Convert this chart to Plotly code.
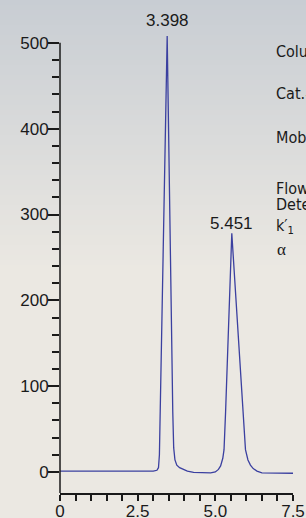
import plotly.graph_objects as go

# ---- data ----
time_min = [0.0, 0.5, 1.0, 1.5, 2.0, 2.5, 3.0, 3.12, 3.17, 3.20, 3.45, 3.63, 3.66, 3.70,
            3.76, 3.85, 4.0, 4.1, 4.3, 4.6, 4.85, 5.0, 5.1, 5.17, 5.24, 5.28, 5.33, 5.53,
            5.87, 5.92, 5.97, 6.05, 6.13, 6.22, 6.34, 6.5, 7.0, 7.5]
signal = [1.0, 1.0, 1.0, 1.0, 1.0, 1.0, 1.0, 2.0, 5.0, 20.0, 508.0, 70.0, 28.0, 14.0,
          8.0, 5.0, 2.5, 1.0, -0.5, -1.0, -1.0, 0.0, 3.0, 7.0, 16.0, 26.0, 70.0, 278.0,
          84.0, 50.0, 26.0, 14.0, 8.0, 4.0, 1.0, -1.0, -1.5, -1.5]

peak_labels = ["3.398", "5.451"]
peak_index = [10, 27]
peak_yshift = [4, -2]

x_tick_vals = [0, 2.5, 5.0, 7.5]
x_tick_text = ["0", "2.5", "5.0", "7.5"]
y_tick_vals = [0, 100, 200, 300, 400, 500]
y_tick_text = ["0", "100", "200", "300", "400", "500"]

info_labels = ["Column:", "Cat.#:", "Mobile phase:", "Flow rate:", "Detection:"]
info_pixel_y = [51, 93, 137, 188, 204]

fig = go.Figure()
fig.add_trace(go.Scatter(x=time_min, y=signal, mode="lines",
                         line=dict(color="#3b40a0", width=1.3),
                         hoverinfo="skip", showlegend=False))

# ---- layout geometry ----
W, H = 306, 518
ml, mr, mt, mb = 60, 13, 30, 25
plot_h = H - mt - mb
plot_w = W - ml - mr

def py_to_paper(p):
    return (H - mb - p) / plot_h

def px_to_paper(p):
    return (p - ml) / plot_w

shapes = []
# background vertical gradient
top = (200, 205, 211)
bot = (235, 232, 226)
grad_end = 270
step = 5
for p in range(0, H, step):
    t = min(1.0, (p + step / 2) / grad_end)
    c = tuple(round(top[i] + (bot[i] - top[i]) * t) for i in range(3))
    shapes.append(dict(type="rect", xref="paper", yref="paper", layer="below",
                       x0=px_to_paper(-2), x1=px_to_paper(W + 2),
                       y0=py_to_paper(p + step + 0.5), y1=py_to_paper(p),
                       fillcolor="rgb(%d,%d,%d)" % c, line=dict(width=0)))
# y axis line (ends at 500)
shapes.append(dict(type="line", xref="paper", yref="y", x0=0, x1=0, y0=-24.5, y1=500,
                   line=dict(color="#1a1a1a", width=1.5)))

narrow = "DejaVu Sans Condensed, Liberation Sans Narrow, Liberation Sans"
annotations = []
for lab, idx, ys in zip(peak_labels, peak_index, peak_yshift):
    annotations.append(dict(x=time_min[idx], y=signal[idx], text=lab, showarrow=False,
                            xanchor="center", yanchor="bottom", yshift=ys,
                            font=dict(family="Liberation Sans", size=17, color="#1a1a1a")))
for lab, p in zip(info_labels, info_pixel_y):
    annotations.append(dict(xref="paper", yref="paper", x=px_to_paper(274), y=py_to_paper(p),
                            text=lab, showarrow=False, xanchor="left", yanchor="middle",
                            font=dict(family=narrow, size=16, color="#1a1a1a")))
annotations.append(dict(xref="paper", yref="paper", x=px_to_paper(274), y=py_to_paper(226),
                        text="k′<sub>1</sub>", showarrow=False, xanchor="left", yanchor="middle",
                        font=dict(family=narrow, size=16, color="#1a1a1a")))
annotations.append(dict(xref="paper", yref="paper", x=px_to_paper(275), y=py_to_paper(249),
                        text="α", showarrow=False, xanchor="left", yanchor="middle",
                        font=dict(family="Liberation Serif", size=17, color="#1a1a1a")))

fig.update_layout(
    width=W, height=H,
    margin=dict(l=ml, r=mr, t=mt, b=mb, pad=0, autoexpand=False),
    paper_bgcolor="#ebe8e2", plot_bgcolor="rgba(0,0,0,0)",
    shapes=shapes, annotations=annotations, showlegend=False,
    xaxis=dict(range=[0, 7.5], tickmode="array", tickvals=x_tick_vals, ticktext=x_tick_text,
               ticks="outside", ticklen=6, tickwidth=1.5, tickcolor="#1a1a1a",
               showline=True, linecolor="#1a1a1a", linewidth=1.5, showgrid=False,
               zeroline=False, fixedrange=True, automargin=False, ticklabelstandoff=-4,
               tickfont=dict(family="Liberation Sans", size=17, color="#1a1a1a"),
               minor=dict(tickvals=[0.5, 1, 1.5, 2, 3, 3.5, 4, 4.5, 5.5, 6, 6.5, 7],
                          ticks="outside", ticklen=6, tickwidth=1.5, tickcolor="#1a1a1a",
                          showgrid=False)),
    yaxis=dict(range=[-24.5, 515], tickmode="array", tickvals=y_tick_vals, ticktext=y_tick_text,
               ticks="outside", ticklen=11, tickwidth=1.5, tickcolor="#1a1a1a",
               showline=False, showgrid=False, zeroline=False, fixedrange=True, automargin=False,
               ticklabelstandoff=-4,
               tickfont=dict(family="Liberation Sans", size=17, color="#1a1a1a"),
               minor=dict(tickvals=[v for v in range(20, 500, 20) if v % 100 != 0],
                          ticks="outside", ticklen=7, tickwidth=1.5, tickcolor="#1a1a1a",
                          showgrid=False)),
)

fig.write_html("out.html", config={"displayModeBar": False},
               post_script="document.body.style.margin='0px';document.body.style.overflow='hidden';")
